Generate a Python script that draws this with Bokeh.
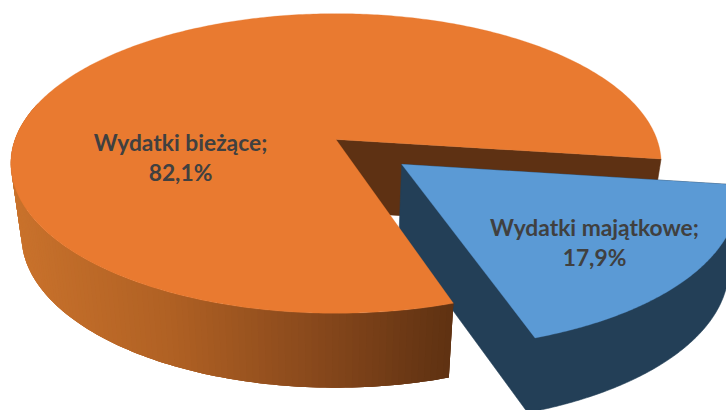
import numpy as np
from bokeh.plotting import figure
from bokeh.embed import file_html
from bokeh.resources import INLINE
from bokeh.core.properties import value

categories = ["Wydatki bieżące", "Wydatki majątkowe"]
shares = [82.1, 17.9]

COL_TOP = ["#E97A30", "#5B9AD5"]
COL_WALL = ["#5E3113", "#233F57"]
SIDE_STOPS_X = [15, 170, 320, 450]
SIDE_STOPS_R = [201, 176, 135, 96]
SIDE_STOPS_G = [114, 97, 72, 50]
SIDE_STOPS_B = [44, 36, 28, 18]
TEXT_COL = "#404040"

# projected pie model: top and bottom face of the disc
K = 0.16
TOP = dict(cx=335.5, cy=139.0, ax=321.0, ay=146.0)
BOT = dict(cx=335.0, cy=211.0, ax=310.0, ay=148.0)
BLUE_BOT = dict(cx=330.0, cy=211.0, ax=318.0, ay=148.0)
START = -7.5
EXPLODE = 0.259


def proj(face, X, Y):
    X, Y = np.asarray(X, float), np.asarray(Y, float)
    w = 1 + K * Y
    return face["cx"] + face["ax"] * X / w, face["cy"] - face["ay"] * Y / w


def arc(a0, a1, n=160):
    t = np.radians(np.linspace(a0, a1, n))
    return np.cos(t), np.sin(t)


sweep_blue = shares[1] / sum(shares) * 360
end_blue = START - sweep_blue
mid = np.radians((START + end_blue) / 2)
ox, oy = EXPLODE * np.cos(mid), EXPLODE * np.sin(mid)

p = figure(width=726, height=410, x_range=(0, 726), y_range=(410, 0),
           x_axis_location=None, y_axis_location=None, toolbar_location=None,
           output_backend="svg", min_border=0, outline_line_color=None,
           background_fill_color="white", border_fill_color="white")
p.grid.visible = False


def poly(xs, ys, color, lw=0.6):
    p.patch(list(xs), list(ys), fill_color=color, line_color=color, line_width=lw)


# orange inner wall, behind everything else
ex, ey = np.cos(np.radians(START)), np.sin(np.radians(START))
tx, ty = proj(TOP, [0, ex], [0, ey])
bx, by = proj(BOT, [0, ex], [0, ey])
poly([tx[0], tx[1], bx[1], bx[0]], [ty[0], ty[1], by[1], by[0]], COL_WALL[0])

# exploded slice: one silhouette for its walls, then its top
ax_, ay_ = arc(START, end_blue)
ax_, ay_ = ax_ + ox, ay_ + oy
tx, ty = proj(TOP, ax_, ay_)
bx, by = proj(BLUE_BOT, ax_, ay_)
atx, aty = proj(TOP, [ox], [oy])
abx, aby = proj(BOT, [ox], [oy])
poly(np.r_[atx, tx[0], bx, abx], np.r_[aty, ty[0], by, aby], COL_WALL[1])
poly(np.r_[atx, tx], np.r_[aty, ty], COL_TOP[1], 0.3)

# outer rim of the large slice, shaded strip by strip; each strip reaches over the next
rim_a = np.linspace(165, 360 + end_blue, 120)
rx, ry = np.cos(np.radians(rim_a)), np.sin(np.radians(rim_a))
rtx, rty = proj(TOP, rx, ry)
rbx, rby = proj(BOT, rx, ry)
for i in range(len(rim_a) - 1):
    j = min(i + 3, len(rim_a) - 1)
    sx = (rtx[i] + rtx[i + 1]) / 2
    c = (int(np.interp(sx, SIDE_STOPS_X, SIDE_STOPS_R)),
         int(np.interp(sx, SIDE_STOPS_X, SIDE_STOPS_G)),
         int(np.interp(sx, SIDE_STOPS_X, SIDE_STOPS_B)))
    seg = np.arange(i, j + 1)
    p.patch(list(np.r_[rtx[seg], rbx[seg][::-1]]), list(np.r_[rty[seg], rby[seg][::-1]]),
            fill_color="#%02x%02x%02x" % c, line_color=None)

# top of the large slice
o_a, o_b = arc(START, 360 + end_blue, 400)
otx, oty = proj(TOP, o_a, o_b)
cx0, cy0 = proj(TOP, [0], [0])
poly(np.r_[cx0, otx], np.r_[cy0, oty], COL_TOP[0], 0.3)

# labels
for cat, val, lx, ly in zip(categories, shares, [180, 594], [141, 226]):
    for k, s in enumerate([cat + ";", f"{val:.1f}%".replace(".", ",")]):
        p.text([lx], [ly + 30 * k], text=[s], text_color=TEXT_COL,
               text_font=value("Lato"), text_font_style="bold", text_font_size="22.8px",
               text_align="center", text_baseline="middle")

open("out.html", "w").write(file_html(p, INLINE))
